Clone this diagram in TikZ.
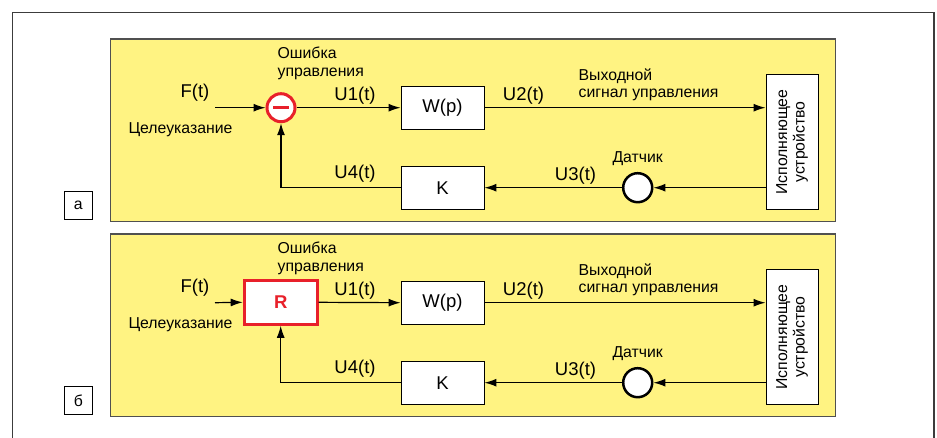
\documentclass[tikz,border=0pt]{standalone}
\usepackage{fontspec}
\setmainfont{Liberation Sans}
\usetikzlibrary{arrows.meta}
\definecolor{panelyellow}{RGB}{255,243,130}
\definecolor{panelgray}{RGB}{80,80,80}
\definecolor{framegray}{RGB}{60,60,60}
\definecolor{alarmred}{RGB}{232,32,42}
\newcommand\lblbig{\fontsize{18.5}{20}\selectfont}
\newcommand\lblsmall{\fontsize{15.8}{17.5}\selectfont}
\tikzset{
 panel/.style={fill=panelyellow, draw=panelgray, line width=1.4pt},
 blk/.style={draw=black, fill=white, line width=0.9pt, minimum width=83pt, minimum height=43pt, inner sep=0pt, font=\lblbig},
 lbl/.style={inner sep=0pt, font=\lblbig},
 note/.style={inner sep=0pt, font=\lblsmall, align=left},
 conn/.style={draw=black, line width=1.2pt, -{Latex[length=12pt,width=8pt]}},
 tagbox/.style={draw=black, fill=white, line width=0.9pt, minimum size=28pt, inner sep=0pt, font=\lblsmall},
 sumc/.style={circle, draw=alarmred, fill=white, line width=3pt, minimum size=28pt, inner sep=0pt},
 sensor/.style={circle, draw=black, fill=white, line width=2.5pt, minimum size=29pt, inner sep=0pt},
 rbox/.style={draw=alarmred, fill=white, line width=3pt, minimum width=73pt, minimum height=44pt, inner sep=0pt, text=alarmred, font=\lblbig\bfseries},
 actbox/.style={draw=black, fill=white, line width=0.9pt, rotate=90, minimum width=134.5pt, minimum height=52pt, inner sep=0pt, align=center, font=\lblsmall},
}
\newcommand\panelbody[2]{%
 \path[panel] (110.7,39) rectangle (835.7,221.7);
 #2
 \node[tagbox] (tag) at (78.3,205.8) {#1};
 \node[blk] (W) at (442.5,107.7) {W(p)};
 \node[blk] (K) at (442.5,187.7) {K};
 \node[actbox] (act) at (792,142) {Исполняющее\\устройство};
 \node[sensor] (sen) at (637.7,187.7) {};
 \coordinate (in) at (215,107.7);
 \coordinate (fb) at (s.south |- K.west);
 \draw[conn] (in) -- (s.west);
 \draw[conn] (s.east) -- (W.west);
 \draw[conn] (W.east) -- (act.north |- W.east);
 \draw[conn] (act.north |- sen.east) -- (sen.east);
 \draw[conn] (sen.west) -- (K.east);
 \draw[conn] (K.west) -- (fb) -- (s.south);
 \node[lbl] (lF) at (195,93) {F(t)};
 \node[note] (lgoal) at (180.5,130) {Целеуказание};
 \node[note, anchor=west] (lerr) at (277.5,63.5) {Ошибка\\управления};
 \node[lbl] (lU1) at (355,96) {U1(t)};
 \node[lbl] (lU2) at (523.5,96) {U2(t)};
 \node[note, anchor=west] (lout) at (578.5,85) {Выходной\\сигнал управления};
 \node[lbl] (lU4) at (355,174) {U4(t)};
 \node[lbl] (lU3) at (575.5,176) {U3(t)};
 \node[note] (lsen) at (637.7,159) {Датчик};
}
\begin{document}
\begin{tikzpicture}[x=1pt,y=-1pt]
 \useasboundingbox (0,0) rectangle (937,437);
 \draw[framegray, line width=1.4pt] (12.5,445) -- (12.5,12.5) -- (934,12.5) -- (934,445);
 \begin{scope}[name prefix=a-]
  \panelbody{а}{%
   \node[sumc] (s) at (281,107.7) {};
   \draw[alarmred, line width=3.5pt] ([xshift=-7.8pt]s.center) -- ([xshift=7.8pt]s.center);
  }
 \end{scope}
 \begin{scope}[yshift=-195pt, name prefix=b-]
  \panelbody{б}{%
   \node[rbox] (s) at (280.7,107.3) {R};
  }
 \end{scope}
\end{tikzpicture}
\end{document}
